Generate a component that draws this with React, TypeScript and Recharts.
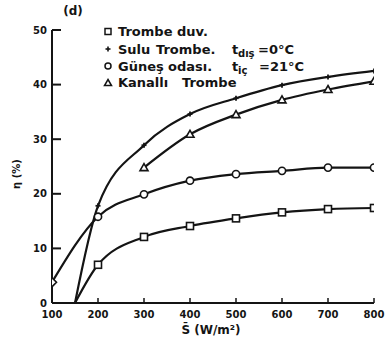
import React from 'react';
import { LineChart, Line, XAxis, YAxis } from 'recharts';

const sTicks = [100, 200, 300, 400, 500, 600, 700, 800];
const etaTicks = [0, 10, 20, 30, 40, 50];

const trombeS = [150, 200, 300, 400, 500, 600, 700, 800];
const trombeEta = [0, 7, 12.1, 14.1, 15.5, 16.6, 17.2, 17.4];

const suluS = [150, 200, 300, 400, 500, 600, 700, 800];
const suluEta = [0, 17.8, 28.9, 34.6, 37.5, 39.9, 41.4, 42.5];

const gunesS = [100, 200, 300, 400, 500, 600, 700, 800];
const gunesEta = [3.8, 15.8, 19.9, 22.4, 23.6, 24.2, 24.8, 24.8];

const kanalliS = [300, 400, 500, 600, 700, 800];
const kanalliEta = [24.8, 30.9, 34.5, 37.2, 39.1, 40.6];

const toData = (xs: number[], ys: number[]) => xs.map((s, i) => ({ s, eta: ys[i] }));

const INK = '#141414';
const FONT = '"DejaVu Sans", sans-serif';

const YTick = (props: any) => {
  const { x, y, payload } = props;
  return (
    <g>
      {payload.value !== 0 && <line x1={x} x2={x + 9} y1={y} y2={y} stroke={INK} strokeWidth={2} />}
      <text x={x - 5} y={y + 3.5} textAnchor="end" fontSize={10} fontWeight="bold" fontFamily={FONT} fill={INK}>
        {payload.value}
      </text>
    </g>
  );
};

const XTick = (props: any) => {
  const { x, y, payload } = props;
  return (
    <g>
      {payload.value !== 100 && <line x1={x} x2={x} y1={y - 5} y2={y} stroke={INK} strokeWidth={1.5} />}
      <text x={x} y={y + 15} textAnchor="middle" fontSize={10} fontWeight="bold" fontFamily={FONT} fill={INK}>
        {payload.value}
      </text>
    </g>
  );
};

const onGrid = (p: any) => p && p.payload && p.payload.s % 100 === 0;

const SquareDot = (props: any) => {
  const { cx, cy } = props;
  if (!onGrid(props)) return <g key={props.index} />;
  return <rect key={props.index} x={cx - 3.5} y={cy - 3.5} width={7} height={7} fill="#fff" stroke={INK} strokeWidth={1.6} />;
};

const PlusDot = (props: any) => {
  const { cx, cy } = props;
  if (!onGrid(props)) return <g key={props.index} />;
  return (
    <g key={props.index}>
      <line x1={cx - 2.5} x2={cx + 2.5} y1={cy} y2={cy} stroke={INK} strokeWidth={1.8} />
      <line x1={cx} x2={cx} y1={cy - 2.5} y2={cy + 2.5} stroke={INK} strokeWidth={1.8} />
    </g>
  );
};

const CircleDot = (props: any) => {
  const { cx, cy, index } = props;
  if (index === 0) {
    return <path key={index} d={`M${cx},${cy - 4.5}L${cx + 4.5},${cy}L${cx},${cy + 4.5}L${cx - 4.5},${cy}Z`} fill="#fff" stroke={INK} strokeWidth={1.6} />;
  }
  return <circle key={index} cx={cx} cy={cy} r={3.6} fill="#fff" stroke={INK} strokeWidth={1.6} />;
};

const TriDot = (props: any) => {
  const { cx, cy, index } = props;
  return <path key={index} d={`M${cx},${cy - 4}L${cx + 4},${cy + 3}L${cx - 4},${cy + 3}Z`} fill="#fff" stroke={INK} strokeWidth={1.6} />;
};

const txt = { fontFamily: FONT, fontWeight: 'bold' as const, fill: INK };

export default function App() {
  return (
    <div style={{ position: 'absolute', left: 0, top: 0, width: 392, height: 346, background: '#fff' }}>
      <LineChart width={392} height={346} margin={{ top: 30, right: 18, bottom: 42, left: 51 }}>
        <XAxis
          type="number"
          dataKey="s"
          domain={[100, 800]}
          ticks={sTicks}
          height={1}
          tickSize={0}
          tickMargin={0}
          tick={<XTick />}
          axisLine={{ stroke: INK, strokeWidth: 2 }}
          allowDataOverflow
        />
        <YAxis
          type="number"
          domain={[0, 50]}
          ticks={etaTicks}
          width={1}
          tickSize={0}
          tickMargin={0}
          tick={<YTick />}
          axisLine={{ stroke: INK, strokeWidth: 2 }}
        />
        <Line data={toData(trombeS, trombeEta)} dataKey="eta" type="monotone" stroke={INK} strokeWidth={2.2} dot={SquareDot} isAnimationActive={false} />
        <Line data={toData(suluS, suluEta)} dataKey="eta" type="monotone" stroke={INK} strokeWidth={2.2} dot={PlusDot} isAnimationActive={false} />
        <Line data={toData(gunesS, gunesEta)} dataKey="eta" type="monotone" stroke={INK} strokeWidth={2.2} dot={CircleDot} isAnimationActive={false} />
        <Line data={toData(kanalliS, kanalliEta)} dataKey="eta" type="monotone" stroke={INK} strokeWidth={2.2} dot={TriDot} isAnimationActive={false} />
      </LineChart>
      <svg width={392} height={346} style={{ position: 'absolute', left: 0, top: 0, pointerEvents: 'none' }}>
        <text x={73} y={15} textAnchor="middle" fontSize={12} {...txt}>(d)</text>
        <text transform="translate(20,174) rotate(-90)" textAnchor="middle" fontSize={10} {...txt}>η (%)</text>
        <text x={211} y={334} textAnchor="middle" fontSize={12} {...txt}>S̄ (W/m²)</text>

        <rect x={105} y={28.5} width={6} height={6} fill="#fff" stroke={INK} strokeWidth={1.5} />
        <text y={36} fontSize={13} {...txt}>
          <tspan x={118}>Trombe</tspan>
          <tspan x={177}>duv.</tspan>
        </text>

        <line x1={105.5} x2={110.5} y1={49} y2={49} stroke={INK} strokeWidth={1.6} />
        <line x1={108} x2={108} y1={46.5} y2={51.5} stroke={INK} strokeWidth={1.6} />
        <text y={54} fontSize={13} {...txt}>
          <tspan x={118}>Sulu</tspan>
          <tspan x={156}>Trombe.</tspan>
          <tspan x={232}>t</tspan>
          <tspan x={238} dy={3} fontSize={10}>dış</tspan>
          <tspan x={258} dy={-3}>=0°C</tspan>
        </text>

        <circle cx={108} cy={66} r={3} fill="#fff" stroke={INK} strokeWidth={1.5} />
        <text y={71} fontSize={13} {...txt}>
          <tspan x={118}>Güneş</tspan>
          <tspan x={168}>odası.</tspan>
          <tspan x={232}>t</tspan>
          <tspan x={238} dy={3} fontSize={10}>iç</tspan>
          <tspan x={259} dy={-3}>=21°C</tspan>
        </text>

        <path d="M108,79.5L111.5,85.5L104.5,85.5Z" fill="#fff" stroke={INK} strokeWidth={1.5} />
        <text y={87} fontSize={13} {...txt}>
          <tspan x={118}>Kanallı</tspan>
          <tspan x={182}>Trombe</tspan>
        </text>
      </svg>
    </div>
  );
}
